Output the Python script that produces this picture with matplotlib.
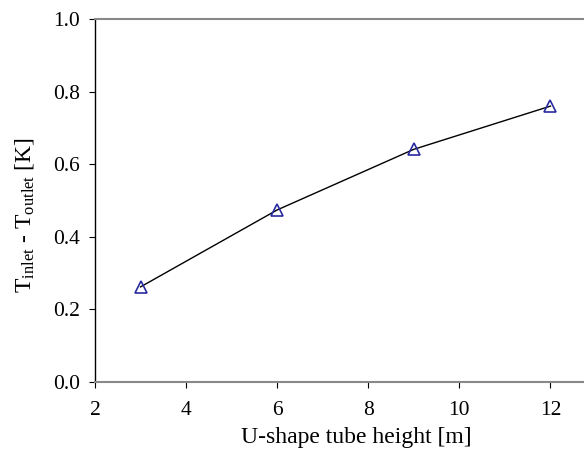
import matplotlib
matplotlib.use("Agg")
import matplotlib.pyplot as plt

heights = [3, 6, 9, 12]
delta_t = [0.262, 0.474, 0.641, 0.760]
x_ticks = [2, 4, 6, 8, 10, 12]
y_ticks = [0.0, 0.2, 0.4, 0.6, 0.8, 1.0]

plt.rcParams['font.family'] = ['Liberation Serif', 'DejaVu Serif']
plt.rcParams['mathtext.fontset'] = 'custom'
plt.rcParams['mathtext.rm'] = 'Liberation Serif'
plt.rcParams['mathtext.it'] = 'Liberation Serif:italic'
plt.rcParams['mathtext.bf'] = 'Liberation Serif:bold'

fig = plt.figure(figsize=(5.84, 4.53), dpi=100)
left, right, bottom, top = 95 / 584, 596 / 584, 1 - 382 / 453, 1 - 19 / 453
ax = fig.add_axes([left, bottom, right - left, top - bottom])
ax.plot(heights, delta_t, color='black', lw=1.0, marker='^', ms=8.5,
        mfc='none', mec='#2a2aa0', mew=1.2)
ax.set_xlim(2, 13)
ax.set_ylim(0, 1.0)
ax.set_xticks(x_ticks)
ax.set_yticks(y_ticks)
ax.set_yticklabels([f"{v:.1f}" for v in y_ticks])
ax.spines['left'].set_color('black')
ax.spines['left'].set_linewidth(1.0)
for s in ['top', 'bottom', 'right']:
    ax.spines[s].set_color('#888888')
    ax.spines[s].set_linewidth(1.5)
ax.tick_params(direction='out', length=4, width=0.8, labelsize=15.5, color='black')
ax.tick_params(axis='y', pad=7)
ax.tick_params(axis='x', pad=10)
ax.set_xlabel('U-shape tube height [m]', fontsize=17, labelpad=5, x=0.521)
ax.set_ylabel(r'T$_{\mathrm{inlet}}$ - T$_{\mathrm{outlet}}$ [K]', fontsize=17,
              labelpad=12, y=0.459)
fig.savefig('out.png', dpi=100)
